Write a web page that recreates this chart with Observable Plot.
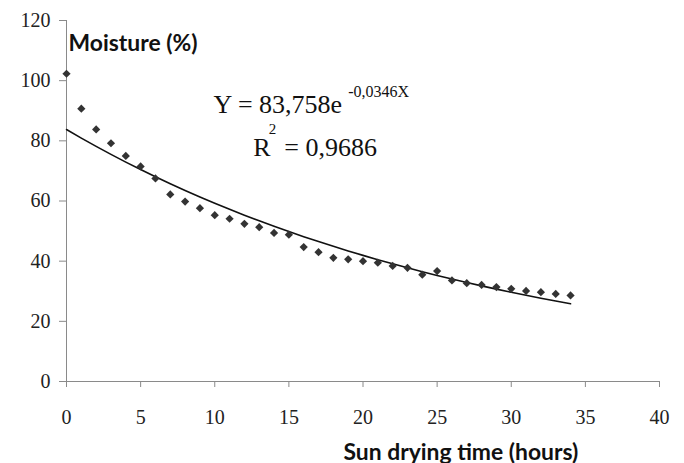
<!DOCTYPE html>
<html>
<head>
<meta charset="utf-8">
<script src="https://cdn.jsdelivr.net/npm/d3@7"></script>
<script src="https://cdn.jsdelivr.net/npm/@observablehq/plot@0.6"></script>
<style>
  html, body { margin: 0; padding: 0; background: #fff; }
  svg g[aria-label$="tick label"] text { font-size: 20px; font-family: "Liberation Serif", "Times New Roman", serif; }
</style>
</head>
<body>
<div id="chart"></div>
<script>
// Data
const hours = [0,1,2,3,4,5,6,7,8,9,10,11,12,13,14,15,16,17,18,19,20,21,22,23,24,25,26,27,28,29,30,31,32,33,34];
const moisture = [102.3,90.7,83.8,79.2,75.0,71.5,67.5,62.2,59.8,57.6,55.3,54.1,52.4,51.3,49.4,48.8,44.7,43.0,41.1,40.6,40.0,39.5,38.4,37.8,35.5,36.7,33.6,32.7,32.1,31.4,30.8,30.1,29.7,29.1,28.6];
const xTicks = [0,5,10,15,20,25,30,35,40];
const yTicks = [0,20,40,60,80,100,120];
// Trend line coefficients as printed on the chart: Y = 83,758 e^(-0,0346 X)
const fitA = 83.758;
const fitK = -0.0346;
const eqMain = "Y = 83,758e";
const eqExp = "-0,0346X";
const r2Main = "R";
const r2Sup = "2";
const r2Rest = " = 0,9686";
const yTitle = "Moisture (%)";
const xTitle = "Sun drying time (hours)";

const points = hours.map((h, i) => ({h, m: moisture[i]}));
const fit = hours.map(h => ({h, m: fitA * Math.exp(fitK * h)}));

const axisColor = "#8a8a8a";
const serif = "Liberation Serif, Times New Roman, serif";
const sans = "Lato, Open Sans, sans-serif";

const chart = Plot.plot({
  width: 684,
  height: 463,
  marginLeft: 66,
  marginRight: 25,
  marginTop: 20,
  marginBottom: 82,
  style: {fontFamily: serif, fontSize: "20px", color: "#222", background: "#fff"},
  x: {domain: [0, 40]},
  y: {domain: [0, 120]},
  marks: [
    Plot.axisX({ticks: xTicks, tickSize: 6, tickPadding: 22, label: null, stroke: axisColor, fill: "#222", fontSize: 20}),
    Plot.axisY({ticks: yTicks, tickSize: 7, tickPadding: 9, label: null, stroke: axisColor, fill: "#222", fontSize: 20}),
    Plot.ruleY([0], {stroke: axisColor, strokeWidth: 1}),
    Plot.ruleX([0], {stroke: axisColor, strokeWidth: 1}),
    Plot.line(fit, {x: "h", y: "m", stroke: "#111", strokeWidth: 1.6}),
    Plot.dot(points, {x: "h", y: "m", symbol: "diamond2", r: 3.7, fill: "#333", stroke: "none"}),
    // Axis titles
    Plot.text([yTitle], {frameAnchor: "top-left", text: d => d, dx: 2, dy: 14, textAnchor: "start", lineAnchor: "top",
      fontFamily: sans, fontWeight: "bold", fontSize: 22, fill: "#111"}),
    Plot.text([xTitle], {frameAnchor: "bottom-left", text: d => d, dx: 277, dy: 78, textAnchor: "start", lineAnchor: "bottom",
      fontFamily: sans, fontWeight: "bold", fontSize: 23, fill: "#111"}),
    // Equation annotation (placed in data coordinates)
    Plot.text([eqMain], {x: () => 9.92, y: () => 89.2, text: d => d, textAnchor: "start", lineAnchor: "bottom",
      fontFamily: serif, fontSize: 26, fill: "#111"}),
    Plot.text([eqExp], {x: () => 19.0, y: () => 94.6, text: d => d, textAnchor: "start", lineAnchor: "bottom",
      fontFamily: serif, fontSize: 16, fill: "#111"}),
    Plot.text([r2Main], {x: () => 12.6, y: () => 74.8, text: d => d, textAnchor: "start", lineAnchor: "bottom",
      fontFamily: serif, fontSize: 26, fill: "#111"}),
    Plot.text([r2Sup], {x: () => 13.65, y: () => 82.4, text: d => d, textAnchor: "start", lineAnchor: "bottom",
      fontFamily: serif, fontSize: 15, fill: "#111"}),
    Plot.text([r2Rest], {x: () => 14.25, y: () => 74.8, text: d => d, textAnchor: "start", lineAnchor: "bottom",
      fontFamily: serif, fontSize: 26, fill: "#111"})
  ]
});
document.getElementById("chart").appendChild(chart);

// Fit the two bold titles to the widths they have in the reference
const titleWidths = new Map([[yTitle, 129], [xTitle, 235]]);
chart.querySelectorAll("text").forEach(t => {
  const target = titleWidths.get(t.textContent);
  if (!target) return;
  const fs = parseFloat(getComputedStyle(t).fontSize);
  const w = t.getComputedTextLength();
  if (w > 0) t.setAttribute("font-size", (fs * target / w).toFixed(2));
});
</script>
</body>
</html>
